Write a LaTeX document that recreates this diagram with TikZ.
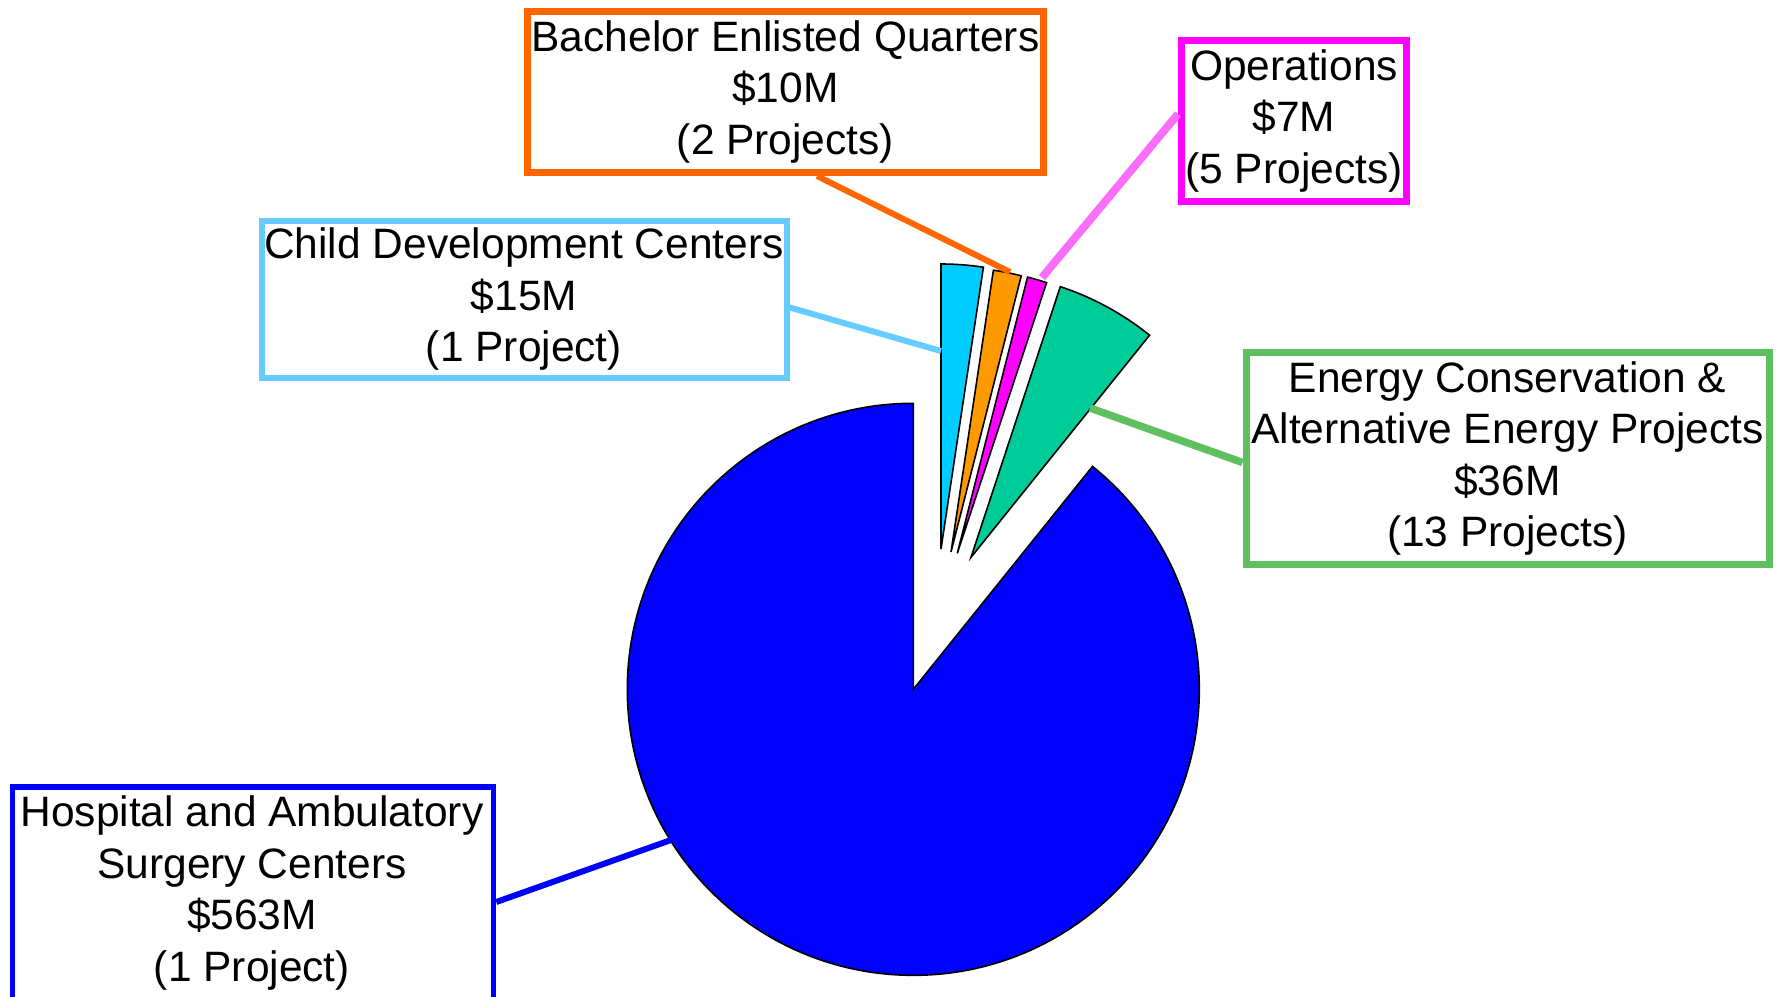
\documentclass[tikz,border=0pt]{standalone}
\usepackage{fontspec}
\setmainfont{Liberation Sans}
\definecolor{pieBlue}{RGB}{0,0,255}
\definecolor{pieCyan}{RGB}{0,204,255}
\definecolor{pieOrange}{RGB}{255,153,0}
\definecolor{pieMagenta}{RGB}{255,0,255}
\definecolor{pieGreen}{RGB}{0,204,153}
\definecolor{boxOrange}{RGB}{255,102,0}
\definecolor{boxSky}{RGB}{102,204,255}
\definecolor{boxGreen}{RGB}{96,192,96}
\definecolor{opsLine}{RGB}{250,110,250}
\tikzset{
  slice/.style={draw=black, line width=1.6pt, line join=miter},
  lbl/.style={draw, fill=white, inner sep=0pt, align=center, font=\fontsize{42.5}{51.5}\selectfont},
  txt/.style={inner sep=0pt, align=center, font=\fontsize{42.5}{51.5}\selectfont},
  leader/.style={line width=6pt}
}
\begin{document}
\begin{tikzpicture}[x=1pt,y=1pt]
\useasboundingbox (0,0) rectangle (1785,-996);
\clip (0,0) rectangle (1785,-996);
% main pie slice
\coordinate (c) at (913.3,-689.3);
\fill[pieBlue, slice] (c) -- ++(90:286) arc[start angle=90, end angle=411.2, radius=286] -- cycle;
% exploded slices
\coordinate (aCyan) at (941,-549);
\coordinate (aOrange) at (951,-552);
\coordinate (aMagenta) at (957.3,-553.3);
\coordinate (aGreen) at (971,-557.3);
\fill[pieCyan, slice] (aCyan) -- ++(90:285) arc[start angle=90, end angle=81.44, radius=285] -- cycle;
\fill[pieOrange, slice] (aOrange) -- ++(81.44:285) arc[start angle=81.44, end angle=75.73, radius=285] -- cycle;
\fill[pieMagenta, slice] (aMagenta) -- ++(75.73:285) arc[start angle=75.73, end angle=71.74, radius=285] -- cycle;
\fill[pieGreen, slice] (aGreen) -- ++(71.74:285) arc[start angle=71.74, end angle=51.2, radius=285] -- cycle;
% connector end points on slices
\coordinate (eCyan) at (941,-351);
\coordinate (eOrange) at (1010,-272);
\coordinate (eMagenta) at (1042,-277.5);
\coordinate (eGreen) at (1090,-408);
\coordinate (eBlue) at (671,-840);
% label boxes
\node[lbl, draw=boxOrange, line width=7pt, minimum width=516, minimum height=161] (beq) at (785.5,-92)
  {Bachelor Enlisted Quarters\\ \$10M\\ (2 Projects)};
\node[lbl, draw=pieMagenta, line width=7pt, minimum width=225, minimum height=161] (ops) at (1294,-121)
  {Operations\\ \$7M\\ (5 Projects)};
\node[lbl, draw=boxSky, line width=6pt, minimum width=525, minimum height=157] (cdc) at (524,-299.4)
  {Child Development Centers\\ \$15M\\ (1 Project)};
\node[lbl, draw=boxGreen, line width=7pt, minimum width=523, minimum height=212] (energy) at (1507.5,-458.5)
  {Energy Conservation \&\\ Alternative Energy Projects\\ \$36M\\ (13 Projects)};
\node[draw=pieBlue, fill=white, line width=5.5pt, inner sep=0pt, minimum width=481, minimum height=224] (hospbox) at (253,-899) {};
\node[txt] (hosp) at (252,-893)
  {Hospital and Ambulatory\\ Surgery Centers\\ \$563M\\ (1 Project)};
% leaders
\draw[leader, boxOrange] ([xshift=31.5]beq.south) -- (eOrange);
\draw[leader, opsLine, line width=8pt] ([yshift=7]ops.west) -- (eMagenta);
\draw[leader, boxSky] ([yshift=-8]cdc.east) -- (eCyan);
\draw[leader, boxGreen, line width=7.5pt] ([yshift=-4]energy.west) -- (eGreen);
\draw[leader, pieBlue] ([yshift=-3]hospbox.east) -- (eBlue);
\end{tikzpicture}
\end{document}
